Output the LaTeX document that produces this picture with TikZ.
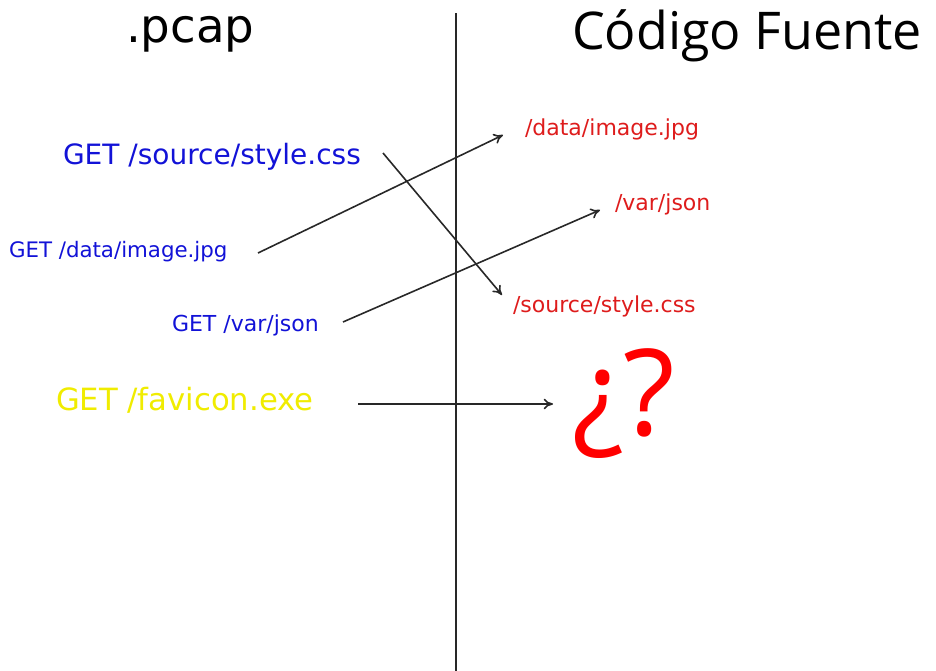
\documentclass[tikz,border=0pt]{standalone}
\usepackage{fontspec}
\usetikzlibrary{arrows.meta}
\setmainfont{DejaVu Sans}
\newfontfamily\titlefont{Open Sans}
\definecolor{reqblue}{RGB}{18,18,215}
\definecolor{srcred}{RGB}{222,28,28}
\definecolor{unkyellow}{RGB}{240,236,0}
\definecolor{qred}{RGB}{255,0,0}
\definecolor{wire}{RGB}{40,40,40}
\tikzset{
  lbl/.style={anchor=base west, inner sep=0pt, outer sep=0pt},
  req/.style={lbl, text=reqblue},
  src/.style={lbl, text=srcred, font=\fontsize{16.5pt}{18pt}\selectfont},
  link/.style={draw=wire, line width=1.2pt, -{To[length=7pt,width=8pt]}},
}
\begin{document}
\begin{tikzpicture}[x=0.75pt, y=-0.75pt]
  \useasboundingbox (0,0) rectangle (936,671);

  % divider between capture and source
  \coordinate (divtop) at (456,13);
  \coordinate (divbot) at (456,671);
  \draw[wire, line width=1.1pt] (divtop) -- (divbot);

  % column headings
  \node[lbl, font=\fontsize{35pt}{40pt}\selectfont] (pcap) at (126,42) {.pcap};
  \node[lbl, font=\titlefont\fontsize{39pt}{44pt}\selectfont] (codigo) at (572,50) {Código Fuente};

  % requests found in the capture
  \node[req, font=\fontsize{21pt}{24pt}\selectfont] (gstyle) at (63,164) {GET /source/style.css};
  \node[req, font=\fontsize{16pt}{19pt}\selectfont] (gimage) at (9,257) {GET /data/image.jpg};
  \node[req, font=\fontsize{16.5pt}{19pt}\selectfont] (gjson) at (172,331) {GET /var/json};
  \node[lbl, text=unkyellow, font=\fontsize{23pt}{26pt}\selectfont] (gfav) at (56,410) {GET /favicon.exe};

  % files in the source tree
  \node[src] (fimage) at (525,135) {/data/image.jpg};
  \node[src] (fjson) at (615,210) {/var/json};
  \node[src] (fstyle) at (513,312) {/source/style.css};
  \node[lbl, text=qred, font=\titlefont\fontsize{90pt}{96pt}\selectfont] (unk) at (572,435) {¿?};

  % connector end points
  \coordinate (a1) at (383,153);  \coordinate (b1) at (502,295);
  \coordinate (a2) at (258,253);  \coordinate (b2) at (503,135);
  \coordinate (a3) at (343,322);  \coordinate (b3) at (600,210);
  \coordinate (a4) at (358,404);  \coordinate (b4) at (553,404);

  \draw[link] (a1) -- (b1);
  \draw[link] (a2) -- (b2);
  \draw[link] (a3) -- (b3);
  \draw[link] (a4) -- (b4);
\end{tikzpicture}
\end{document}
